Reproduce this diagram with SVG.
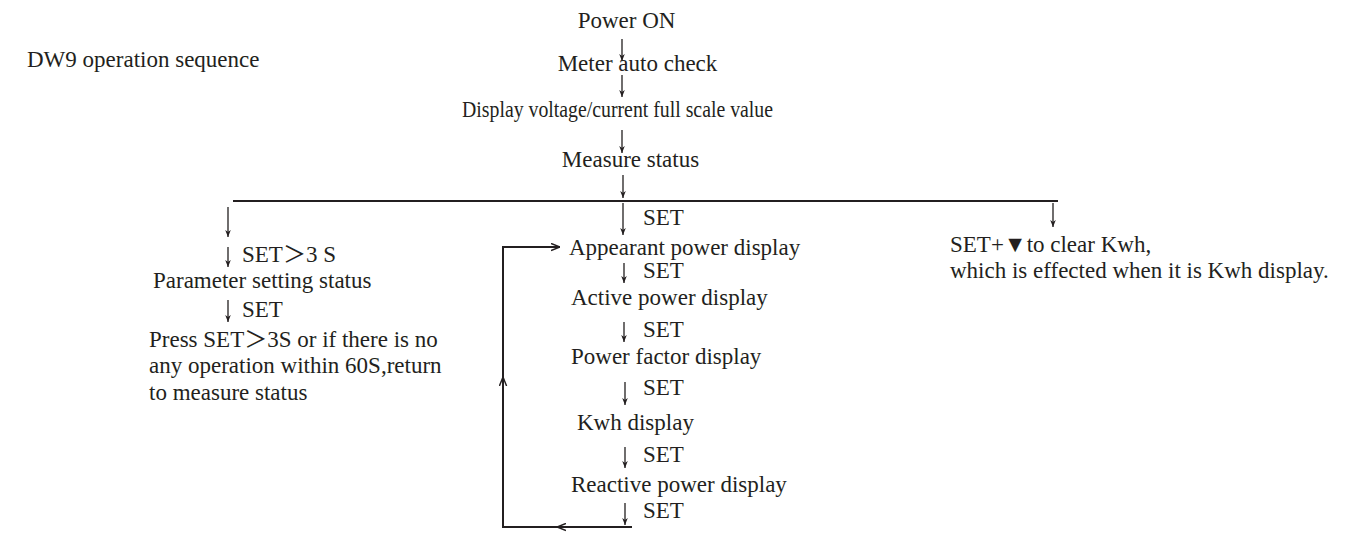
<svg xmlns="http://www.w3.org/2000/svg" width="1362" height="534" viewBox="0 0 1362 534">
<style>
text{font-family:"Liberation Serif","Times New Roman","Noto Sans CJK SC",serif;font-size:23px;fill:#231f20}
.c{text-anchor:middle}
.ln{stroke:#231f20;stroke-width:1.3;fill:none}
.hl{stroke:#231f20;stroke-width:2;fill:none}
</style>
<defs>
<marker id="ah" viewBox="0 0 10 10" refX="10" refY="5" markerWidth="7" markerHeight="7" orient="auto" markerUnits="userSpaceOnUse">
<path d="M0,1 L10,5 L0,9 L3,5 Z" fill="#231f20"/>
</marker>
<marker id="ah2" viewBox="0 0 10 10" refX="10" refY="5" markerWidth="9" markerHeight="9" orient="auto" markerUnits="userSpaceOnUse">
<path d="M0,1 L10,5 L0,9" fill="none" stroke="#231f20" stroke-width="1.6"/>
</marker>
</defs>
<rect width="1362" height="534" fill="#fff"/>
<g id="title"><text x="27" y="67">DW9 operation sequence</text></g>
<g id="power-on"><text class="c" x="626.5" y="28">Power ON</text></g>
<g id="auto-check"><text class="c" x="637.5" y="71">Meter auto check</text></g>
<g id="full-scale"><text x="462" y="117" textLength="311" lengthAdjust="spacingAndGlyphs">Display voltage/current full scale value</text></g>
<g id="measure"><text class="c" x="630.5" y="167">Measure status</text></g>
<g id="param-trigger"><text x="242" y="262">SET＞3 S</text></g>
<g id="param-status"><text x="153" y="288">Parameter setting status</text></g>
<g id="param-set"><text x="242" y="317">SET</text></g>
<g id="param-return"><text x="149" y="347">Press SET＞3S or if there is no</text><text x="149" y="373">any operation within 60S,return</text><text x="149" y="400">to measure status</text></g>
<g id="set1"><text x="643" y="225">SET</text></g>
<g id="apparent"><text x="569" y="255">Appearant power display</text></g>
<g id="set2"><text x="643" y="278">SET</text></g>
<g id="active"><text x="571" y="305">Active power display</text></g>
<g id="set3"><text x="643" y="337">SET</text></g>
<g id="pf"><text x="571" y="364">Power factor display</text></g>
<g id="set4"><text x="643" y="395">SET</text></g>
<g id="kwh"><text x="577" y="430">Kwh display</text></g>
<g id="set5"><text x="643" y="462">SET</text></g>
<g id="reactive"><text x="571" y="492">Reactive power display</text></g>
<g id="set6"><text x="643" y="518">SET</text></g>
<g id="clear-kwh"><text x="950" y="252">SET+▼to clear Kwh,</text><text x="950" y="278">which is effected when it is Kwh display.</text></g>
<g id="connectors">
<path class="ln" d="M622,39 V61" marker-end="url(#ah)"/>
<path class="ln" d="M622,75 V97" marker-end="url(#ah)"/>
<path class="ln" d="M622,130 V153" marker-end="url(#ah)"/>
<path class="ln" d="M623,175 V198" marker-end="url(#ah)"/>
<path class="hl" d="M233,201 H1058"/>
<path class="ln" d="M228,207 V237" marker-end="url(#ah)"/>
<path class="ln" d="M228,247 V267" marker-end="url(#ah)"/>
<path class="ln" d="M228,300 V322" marker-end="url(#ah)"/>
<path class="ln" d="M623,203 V235" marker-end="url(#ah)"/>
<path class="ln" d="M624,263 V283" marker-end="url(#ah)"/>
<path class="ln" d="M624,322 V342" marker-end="url(#ah)"/>
<path class="ln" d="M625,382 V405" marker-end="url(#ah)"/>
<path class="ln" d="M625,447 V468" marker-end="url(#ah)"/>
<path class="ln" d="M625,503 V525" marker-end="url(#ah)"/>
<path class="ln" d="M1053,203 V227" marker-end="url(#ah)"/>
<path class="hl" d="M632,527 H557" marker-end="url(#ah2)"/>
<path class="hl" d="M557,527 H503 V377" marker-end="url(#ah2)"/>
<path class="hl" d="M503,377 V247 H560" marker-end="url(#ah2)"/>
</g>
</svg>
